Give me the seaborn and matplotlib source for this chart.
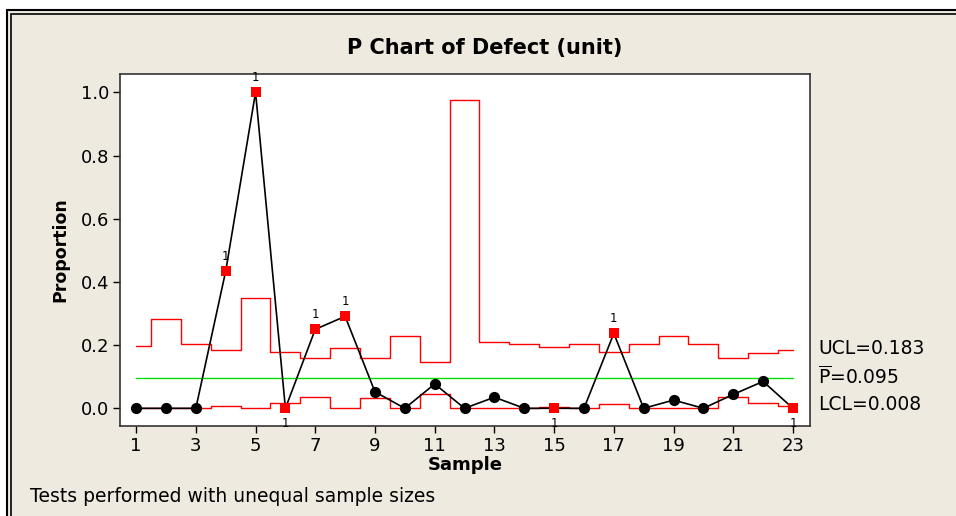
import matplotlib

matplotlib.use("Agg")
import matplotlib.pyplot as plt
import numpy as np
import pandas as pd
import seaborn as sns
from matplotlib.patches import Rectangle

# Данные P-карты
samples = list(range(1, 24))
proportion = [0, 0, 0, 0.434, 1.0, 0, 0.25, 0.291, 0.052, 0, 0.077, 0, 0.035,
              0, 0, 0, 0.237, 0, 0.026, 0, 0.044, 0.085, 0]
ucl = [0.196, 0.284, 0.204, 0.184, 0.350, 0.179, 0.159, 0.191, 0.159, 0.229,
       0.146, 0.975, 0.209, 0.205, 0.193, 0.205, 0.179, 0.205, 0.229, 0.205,
       0.159, 0.176, 0.184]
lcl = [0, 0, 0, 0.008, 0, 0.018, 0.037, 0, 0.034, 0, 0.046, 0, 0, 0, 0.005,
       0, 0.013, 0, 0, 0, 0.037, 0.018, 0.008]
p_bar = 0.095
# Точки, нарушившие тест 1
fail_above = [4, 5, 7, 8, 17]
fail_below = [6, 15, 23]
limit_labels = ["UCL=0.183", r"$\mathregular{\overline{P}}$=0.095", "LCL=0.008"]
xticks = list(range(1, 24, 2))
yticks = [0.0, 0.2, 0.4, 0.6, 0.8, 1.0]

df = pd.DataFrame({"sample": samples, "p": proportion, "ucl": ucl, "lcl": lcl})
df["fail"] = df["sample"].isin(fail_above + fail_below)

sns.set_theme(style="white")
plt.rcParams["font.family"] = ["DejaVu Sans"]
plt.rcParams.update({"text.color": "black", "axes.labelcolor": "black",
                     "xtick.color": "black", "ytick.color": "black"})

bg = "#eeeae0"
fig = plt.figure(figsize=(9.56, 5.16), dpi=100)
fig.patch.set_facecolor("white")

# Рамка окна Minitab (двойная линия)
fig.patches.append(Rectangle((7 / 956, -0.1), 1.2, 1 - 10 / 516 + 0.1,
                             transform=fig.transFigure, facecolor=bg,
                             edgecolor="black", lw=1.5, zorder=-2))
fig.patches.append(Rectangle((11 / 956, -0.1), 1.2, 1 - 14 / 516 + 0.1,
                             transform=fig.transFigure, facecolor=bg,
                             edgecolor="black", lw=1.2, zorder=-1))

ax = fig.add_axes([120 / 956, 1 - 426 / 516, 690 / 956, 352 / 516])
ax.set_facecolor("white")

sns.lineplot(data=df, x="sample", y="ucl", ax=ax, color="red", lw=1,
             drawstyle="steps-mid")
sns.lineplot(data=df, x="sample", y="lcl", ax=ax, color="red", lw=1,
             drawstyle="steps-mid")
ax.plot([samples[0], samples[-1]], [p_bar, p_bar], color="#00e000", lw=1)
sns.lineplot(data=df, x="sample", y="p", ax=ax, color="black", lw=1.2)
sns.scatterplot(data=df[~df["fail"]], x="sample", y="p", ax=ax, color="black",
                marker="o", s=65, edgecolor="black", linewidth=0, zorder=5)
sns.scatterplot(data=df[df["fail"]], x="sample", y="p", ax=ax, color="red",
                marker="s", s=60, edgecolor="red", linewidth=0, zorder=6)

for s in fail_above:
    ax.annotate("1", (s, proportion[s - 1]), xytext=(0, 6),
                textcoords="offset points", ha="center", va="bottom", fontsize=8.5)
for s in fail_below:
    ax.annotate("1", (s, proportion[s - 1]), xytext=(0, -6),
                textcoords="offset points", ha="center", va="top", fontsize=8.5)

ax.set_xlim(0.46, 23.57)
ax.set_ylim(-0.056, 1.058)
ax.set_xticks(xticks)
ax.set_yticks(yticks)
ax.set_yticklabels([f"{v:.1f}" for v in yticks])
ax.tick_params(axis="both", direction="out", length=5, width=1, color="black",
               labelsize=13, pad=3, bottom=True, left=True)
for sp in ax.spines.values():
    sp.set_color("#333333")
    sp.set_linewidth(1.2)

ax.set_xlabel("Sample", fontsize=13, fontweight="bold", labelpad=1)
ax.set_ylabel("Proportion", fontsize=12.5, fontweight="bold", labelpad=8)

fig.text(485 / 956, 1 - 48 / 516, "P Chart of Defect (unit)", ha="center",
         va="center", fontsize=15, fontweight="bold")
for lbl, ypix in zip(limit_labels, [348, 377, 404]):
    fig.text(818 / 956, 1 - ypix / 516, lbl, ha="left", va="center", fontsize=13.5)
fig.text(30 / 956, 1 - 496 / 516, "Tests performed with unequal sample sizes",
         ha="left", va="center", fontsize=13.5)

plt.savefig("out.png", dpi=100, facecolor=fig.get_facecolor())
plt.close()
